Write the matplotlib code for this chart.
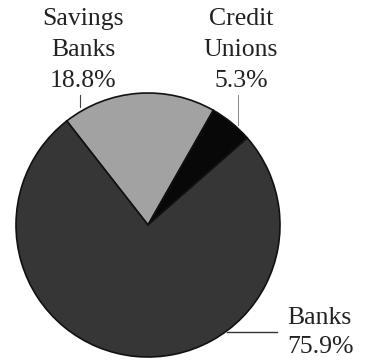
import matplotlib
matplotlib.use('Agg')
import matplotlib.pyplot as plt

labels = ['Savings\nBanks', 'Credit\nUnions', 'Banks']
shares = [18.8, 5.3, 75.9]
colors = ['#a2a2a2', '#080808', '#363636']

plt.rcParams['font.family'] = ['Liberation Serif', 'DejaVu Serif']

W, H = 365, 360
CX, CY, R = 148, 225, 132


def px(x, y):
    # pixel position -> data units (pie radius = 1)
    return (x - CX) / R, (CY - y) / R


fig = plt.figure(figsize=(W / 100, H / 100), dpi=100)
ax = fig.add_axes([0, 0, 1, 1])

ax.pie(shares, colors=colors, startangle=128, counterclock=False,
       wedgeprops=dict(edgecolor='#111111', linewidth=1.2))

ax.set_xlim(px(0, 0)[0], px(W, 0)[0])
ax.set_ylim(px(0, H)[1], px(0, 0)[1])
ax.set_aspect('equal')
ax.axis('off')

fs = 18.5
ls = 1.52
ax.text(*px(83, 8), f"{labels[0]}\n{shares[0]}%", ha='center', va='top',
        fontsize=fs, linespacing=ls, color='#222222')
ax.text(*px(241, 8), f"{labels[1]}\n{shares[1]}%", ha='center', va='top',
        fontsize=fs, linespacing=ls, color='#222222')
ax.text(*px(287, 307), f"{labels[2]}\n{shares[2]}%", ha='left', va='top',
        fontsize=fs, linespacing=1.42, color='#222222')

# leader lines
ax.plot(*zip(px(80, 95), px(80, 107)), color='#444444', lw=0.8)
ax.plot(*zip(px(238, 95), px(238, 125)), color='#888888', lw=0.7)
ax.plot(*zip(px(227, 332), px(277, 332)), color='#333333', lw=1.0)

fig.savefig('out.png', dpi=100)
